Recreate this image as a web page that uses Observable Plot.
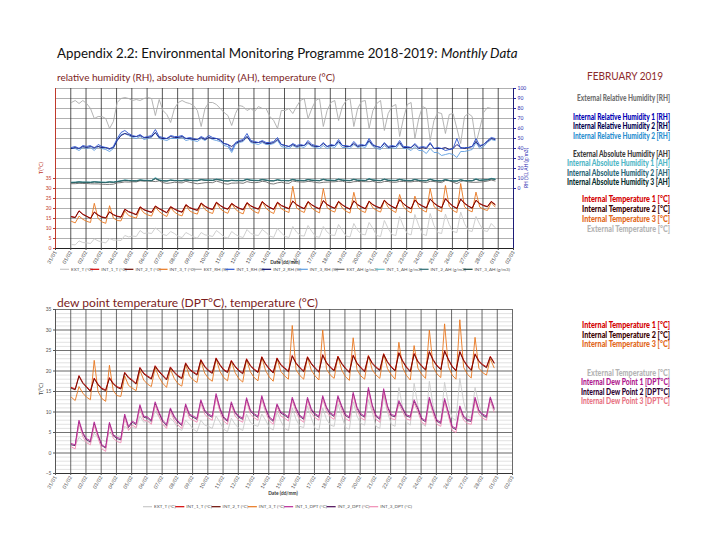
<!DOCTYPE html>
<html><head><meta charset="utf-8">
<script src="https://cdn.jsdelivr.net/npm/d3@7"></script>
<script src="https://cdn.jsdelivr.net/npm/@observablehq/plot@0.6"></script>
<style>
body{margin:0;background:#fff;}
#page{position:relative;width:720px;height:540px;overflow:hidden;background:#fff;font-family:Lato,"Open Sans",sans-serif;}
.abs{position:absolute;}
</style></head><body><div id="page"></div>
<script>
// ---------- time grid / ticks ----------
const slotHours = [1, 7, 13, 19];          // readings per day (hours)
const nDays = 28;                          // 1..28 February 2019
const tickLabels = ["31/01","01/02","02/02","03/02","04/02","05/02","06/02","07/02","08/02","09/02","10/02","11/02","12/02","13/02","14/02","15/02","16/02","17/02","18/02","19/02","20/02","21/02","22/02","23/02","24/02","25/02","26/02","27/02","28/02","01/03","02/03"];

// ---------- temperature series (°C), 4 readings per day ----------
const EXT_T = [
2.0,1.8,3.8,3.0, 2.8,2.5,4.8,3.8, 3.2,2.8,5.0,4.2, 4.2,4.0,6.5,5.8,
6.2,6.0,9.0,7.5, 7.8,7.5,10.3,8.8, 7.0,6.5,8.5,7.5, 6.0,5.5,8.0,7.0,
5.8,5.2,8.0,6.8, 6.5,6.0,9.0,7.5, 5.8,5.2,8.5,7.0, 6.0,5.5,9.5,7.5,
6.8,6.5,9.5,8.0, 6.2,5.6,10.0,7.8, 6.0,5.5,11.0,8.2, 6.5,6.2,11.5,8.5,
6.0,5.6,11.0,8.2, 6.8,6.5,12.0,9.0, 6.2,5.8,12.5,9.0, 7.2,6.8,13.0,10.0,
6.5,6.0,14.0,10.0, 7.0,6.5,16.0,11.0, 7.5,6.8,17.0,11.5, 7.2,6.5,17.5,11.5,
8.0,7.5,17.2,12.0, 8.5,8.0,18.2,12.5, 9.0,8.5,16.0,12.0, 9.0,8.5,12.5,10.5];
const INT_1_T = [
16.0,15.6,18.9,17.2, 16.2,15.2,18.3,16.8, 15.8,15.4,18.4,17.0, 16.2,15.8,19.7,18.5,
17.8,17.0,20.9,19.5, 18.8,18.2,21.3,20.0, 19.0,18.0,21.0,19.8, 18.9,18.3,22.0,20.5,
19.8,19.2,22.8,21.2, 20.2,19.6,23.2,21.6, 20.4,19.8,22.6,21.2, 20.2,19.5,23.0,21.4,
20.5,19.8,23.5,21.8, 20.6,19.7,23.2,21.6, 20.8,20.0,23.8,22.0, 20.9,20.0,23.5,21.9,
20.8,19.9,24.0,22.1, 21.0,20.2,23.6,21.9, 20.7,19.8,23.9,22.0, 20.9,20.0,23.7,22.0,
21.0,20.3,24.2,22.3, 21.1,20.2,24.5,22.5, 21.0,20.0,24.3,22.4, 21.3,20.4,24.8,22.8,
21.4,20.5,25.0,22.9, 21.2,20.2,24.8,22.7, 21.3,20.3,24.2,22.5, 21.6,21.0,23.6,22.1];
const INT_2_T = [
15.8,15.4,18.7,17.0, 16.0,15.0,18.1,16.6, 15.6,15.2,18.2,16.8, 16.0,15.6,19.5,18.3,
17.6,16.8,20.7,19.3, 18.6,18.0,21.1,19.8, 18.8,17.8,20.8,19.6, 18.7,18.1,21.8,20.3,
19.6,19.0,22.6,21.0, 20.0,19.4,23.0,21.4, 20.2,19.6,22.4,21.0, 20.0,19.3,22.8,21.2,
20.3,19.6,23.3,21.6, 20.4,19.5,23.0,21.4, 20.6,19.8,23.6,21.8, 20.7,19.8,23.3,21.7,
20.6,19.7,23.8,21.9, 20.8,20.0,23.4,21.7, 20.5,19.6,23.7,21.8, 20.7,19.8,23.5,21.8,
20.8,20.1,24.0,22.1, 20.9,20.0,24.3,22.3, 20.8,19.8,24.1,22.2, 21.1,20.2,24.6,22.6,
21.2,20.3,24.8,22.7, 21.0,20.0,24.6,22.5, 21.1,20.1,24.0,22.3, 21.4,20.8,23.4,21.9];
const INT_3_T = [
13.6,12.8,16.2,14.6, 13.6,13.0,22.6,15.0, 13.3,12.6,21.4,15.2, 14.0,13.8,18.8,16.5,
15.8,15.2,20.2,17.8, 16.8,16.2,20.8,18.5, 17.0,16.0,20.5,18.2, 16.9,16.3,21.6,18.8,
17.8,17.2,22.5,19.5, 18.2,17.5,23.0,19.9, 18.4,17.6,22.4,19.6, 18.1,17.3,22.8,19.8,
18.4,17.6,23.4,20.1, 18.5,17.5,23.0,19.9, 18.8,18.0,31.1,20.3, 18.9,18.0,23.4,20.2,
18.8,17.8,30.0,20.4, 19.0,18.2,23.6,20.2, 18.6,17.7,28.1,20.3, 18.8,18.0,23.8,20.3,
19.0,18.2,24.2,20.6, 19.1,18.0,27.0,20.8, 18.9,17.8,26.2,20.7, 19.2,18.2,30.0,21.0,
19.3,18.4,31.5,21.1, 19.0,18.0,32.5,20.9, 19.2,18.3,28.2,20.7, 19.6,19.0,23.0,20.8];

// ---------- dew point (°C) ----------
const INT_1_DPT = [
2.3,2.0,8.0,5.0, 3.5,3.0,7.6,4.5, 2.0,1.4,7.5,4.5, 3.8,3.5,9.5,6.5,
7.8,7.2,11.8,9.0, 8.8,8.0,12.5,10.0, 8.0,7.0,11.0,9.0, 7.8,7.0,12.0,9.5,
9.0,8.5,13.0,10.5, 9.5,9.0,14.5,11.0, 8.8,8.0,12.5,10.0, 9.0,8.5,13.5,10.5,
9.6,9.0,14.0,11.0, 8.8,8.0,12.0,10.0, 9.5,8.8,13.6,11.0, 9.2,8.5,13.6,10.8,
9.6,9.0,14.0,11.2, 9.8,9.2,14.0,11.5, 9.4,8.8,14.8,11.2, 9.6,9.0,16.0,11.8,
9.2,8.5,15.7,11.5, 9.4,9.1,12.8,11.0, 9.3,9.0,13.0,11.0, 8.5,7.9,13.6,10.5,
8.0,7.5,13.3,10.0, 6.5,6.0,11.5,9.0, 8.2,8.0,13.6,10.5, 9.5,9.0,13.7,11.0];
const INT_2_DPT = [
2.0,1.8,7.6,4.7, 3.2,2.7,7.2,4.2, 1.8,1.2,7.2,4.2, 3.5,3.2,9.1,6.2,
7.5,6.9,11.4,8.7, 8.5,7.7,12.1,9.7, 7.7,6.7,10.7,8.7, 7.5,6.7,11.6,9.2,
8.7,8.2,12.6,10.2, 9.2,8.7,14.0,10.7, 8.5,7.7,12.1,9.7, 8.7,8.2,13.1,10.2,
9.3,8.7,13.6,10.7, 8.5,7.7,11.7,9.7, 9.2,8.5,13.2,10.7, 8.9,8.2,13.2,10.5,
9.3,8.7,13.6,10.9, 9.5,8.9,13.6,11.2, 9.1,8.5,14.4,10.9, 9.3,8.7,15.5,11.5,
8.9,8.2,15.2,11.2, 9.1,8.8,12.4,10.7, 9.0,8.7,12.6,10.7, 8.2,7.6,13.2,10.2,
7.7,7.2,12.9,9.7, 6.2,5.7,11.1,8.7, 7.9,7.7,13.2,10.2, 9.2,8.7,13.3,10.7];
const INT_3_DPT = [
1.5,1.0,7.2,4.0, 2.5,2.0,6.8,3.6, 1.0,0.4,6.8,3.6, 2.8,2.5,8.6,5.5,
6.8,6.2,11.0,8.0, 7.8,7.0,11.7,9.0, 7.0,6.0,10.2,8.0, 6.8,6.0,11.2,8.5,
8.0,7.5,12.2,9.5, 8.5,8.0,13.6,10.0, 7.8,7.0,11.7,9.0, 8.0,7.5,12.7,9.5,
8.6,8.0,13.2,10.0, 7.8,7.0,11.3,9.0, 8.5,7.8,12.8,10.0, 8.2,7.5,12.8,9.8,
8.6,8.0,13.2,10.2, 8.8,8.2,13.2,10.5, 8.4,7.8,14.0,10.2, 8.6,8.0,15.0,10.8,
8.2,7.5,14.8,10.5, 8.4,8.1,12.0,10.0, 8.3,8.0,12.2,10.0, 7.5,6.9,12.8,9.5,
7.0,6.5,12.5,9.0, 5.5,5.0,10.7,8.0, 7.2,7.0,12.8,9.5, 8.5,8.0,12.9,10.0];

// ---------- relative humidity (%) ----------
const EXT_RH = [
86,88,85,88, 85,80,70,72, 72,70,60,67, 86,90,91,90,
88,89,88,90, 91,90,73,89, 78,74,66,80, 86,88,86,85,
83,78,62,80, 86,86,84,80, 76,73,63,75, 83,82,78,80,
77,82,80,80, 72,68,60,78, 78,80,75,82, 88,90,70,80,
88,90,62,78, 86,88,68,82, 88,90,62,80, 87,88,60,78,
85,88,58,75, 82,84,52,70, 84,86,50,70, 82,80,48,68,
76,75,55,74, 75,60,45,72, 75,72,45,60, 76,81,80,80];
const INT_1_RH = [
41,42,40,43, 42,43,40,44, 42,41,39,42, 50,56,58,55,
53,52,54,51, 52,53,59,52, 51,50,53,52, 52,53,50,51,
50,49,52,50, 53,51,50,49, 45,44,38,46, 48,49,55,48,
47,46,48,46, 46,47,51,44, 43,42,45,43, 44,43,48,44,
43,42,46,42, 44,43,49,43, 43,42,47,43, 44,43,50,44,
42,41,46,42, 43,42,48,42, 42,41,45,41, 42,41,46,40,
41,40,38,39, 40,50,40,41, 41,42,50,43, 44,48,51,50];
const INT_2_RH = [
40,41,40,42, 41,42,41,42, 41,41,40,41, 48,53,55,54,
52,52,53,51, 51,52,56,51, 50,50,52,51, 51,52,50,50,
49,49,51,49, 51,50,50,48, 45,44,42,45, 47,48,52,47,
46,46,47,45, 45,46,49,44, 43,42,44,42, 43,43,46,43,
42,42,45,42, 43,43,47,43, 42,42,45,42, 43,43,48,43,
42,41,45,41, 42,42,46,41, 41,41,44,40, 41,40,45,40,
40,40,41,39, 40,44,41,40, 41,42,47,42, 44,47,50,49];
const INT_3_RH = [
40,40,38,41, 40,41,38,42, 40,39,37,40, 48,54,55,53,
51,50,52,49, 50,51,56,50, 49,48,50,50, 50,51,48,49,
48,47,50,48, 51,49,48,47, 43,42,36,44, 46,47,52,46,
45,44,46,44, 44,45,48,42, 41,40,43,41, 42,41,45,42,
41,40,43,40, 42,41,46,41, 41,40,44,41, 42,41,47,42,
40,39,43,40, 41,40,45,40, 40,38,42,38, 38,35,40,36,
36,33,34,35, 34,31,37,37, 38,39,46,40, 42,46,49,48];

// ---------- absolute humidity (g/m3) ----------
const EXT_AH = [
4.8,4.8,5.2,5.0, 5.0,4.7,4.6,4.6, 4.3,4.1,4.1,4.3, 5.6,5.9,6.6,6.4,
6.7,6.6,7.7,7.3, 7.6,7.3,6.9,7.7, 5.9,5.1,5.6,6.3, 5.9,5.6,7.2,6.2,
5.5,4.7,5.2,5.8, 6.0,5.8,7.4,6.3, 4.9,4.3,5.4,5.4, 5.6,5.2,6.9,6.0,
5.8,6.1,7.2,6.7, 4.9,4.5,5.7,6.2, 5.4,5.1,7.5,6.8, 6.5,6.4,7.1,6.8,
6.0,5.6,6.2,6.4, 6.6,6.7,7.2,7.3, 6.2,5.9,6.8,7.0, 6.9,6.8,6.8,7.3,
6.0,5.9,7.0,7.0, 6.3,6.2,7.1,7.0, 6.7,6.6,7.2,7.2, 6.4,5.9,7.2,7.0,
6.3,5.9,8.0,7.8, 6.3,4.9,7.0,8.0, 6.6,6.2,6.2,6.4, 6.8,7.4,8.5,7.5];
const INT_1_AH = [
6.3,6.4,6.8,6.5, 6.5,6.4,6.9,6.6, 6.4,6.3,6.8,6.5, 7.2,7.8,8.6,8.2,
8.0,7.9,8.8,8.3, 8.2,8.1,11.0,8.6, 8.0,7.8,8.6,8.2, 8.1,8.0,8.9,8.4,
8.2,8.1,9.2,8.6, 8.5,8.4,9.5,8.8, 8.0,7.8,8.4,8.1, 8.2,8.1,9.6,8.5,
8.3,8.2,9.3,8.6, 8.0,7.9,9.0,8.2, 8.2,8.0,9.4,8.4, 8.3,8.1,9.3,8.5,
8.3,8.1,9.5,8.5, 8.4,8.2,9.6,8.6, 8.3,8.1,9.5,8.5, 8.4,8.2,10.0,8.7,
8.3,8.1,9.6,8.5, 8.3,8.2,9.5,8.5, 8.2,8.1,9.4,8.4, 8.1,8.0,9.6,8.3,
8.0,7.9,9.2,8.2, 7.8,7.7,9.0,8.0, 8.1,8.0,9.8,8.4, 8.8,9.0,10.2,9.6];
const INT_2_AH = [
6.1,6.2,6.6,6.3, 6.3,6.2,6.7,6.4, 6.2,6.1,6.6,6.3, 7.0,7.6,8.3,8.0,
7.8,7.7,8.5,8.1, 8.0,7.9,10.2,8.4, 7.8,7.6,8.4,8.0, 7.9,7.8,8.6,8.2,
8.0,7.9,8.9,8.4, 8.3,8.2,9.2,8.6, 7.8,7.6,8.2,7.9, 8.0,7.9,9.2,8.3,
8.1,8.0,9.0,8.4, 7.8,7.7,8.7,8.0, 8.0,7.8,9.1,8.2, 8.1,7.9,9.0,8.3,
8.1,7.9,9.2,8.3, 8.2,8.0,9.3,8.4, 8.1,7.9,9.2,8.3, 8.2,8.0,9.6,8.5,
8.1,7.9,9.3,8.3, 8.1,8.0,9.2,8.3, 8.0,7.9,9.1,8.2, 7.9,7.8,9.3,8.1,
7.8,7.7,8.9,8.0, 7.6,7.5,8.7,7.8, 7.9,7.8,9.4,8.2, 8.6,8.8,9.8,9.3];
const INT_3_AH = [
5.9,6.0,6.4,6.1, 6.1,6.0,6.5,6.2, 6.0,5.9,6.4,6.1, 6.8,7.4,8.1,7.8,
7.6,7.5,8.3,7.9, 7.8,7.7,9.8,8.2, 7.6,7.4,8.2,7.8, 7.7,7.6,8.4,8.0,
7.8,7.7,8.7,8.2, 8.1,8.0,9.0,8.4, 7.6,7.4,8.0,7.7, 7.8,7.7,9.0,8.1,
7.9,7.8,8.8,8.2, 7.6,7.5,8.5,7.8, 7.8,7.6,8.9,8.0, 7.9,7.7,8.8,8.1,
7.9,7.7,9.0,8.1, 8.0,7.8,9.1,8.2, 7.9,7.7,9.0,8.1, 8.0,7.8,9.4,8.3,
7.9,7.7,9.1,8.1, 7.9,7.8,9.0,8.1, 7.8,7.7,8.9,8.0, 7.7,7.6,9.1,7.9,
7.6,7.5,8.7,7.8, 7.4,7.3,8.5,7.6, 7.7,7.6,9.2,8.0, 8.4,8.6,9.6,9.1];

// ---------- axis tick values ----------
const tTicksTop = [0,5,10,15,20,25,30,35];
const rhTicks = [0,10,20,30,40,50,60,70,80,90,100];
const tTicksBottom = [-5,0,5,10,15,20,25,30,35];

// ---------- text ----------
const titleMain = "Appendix 2.2: Environmental Monitoring Programme 2018-2019: ";
const titleItalic = "Monthly Data";
const subTop = "relative humidity (RH), absolute humidity (AH), temperature (°C)";
const subBottom = "dew point temperature (DPT°C), temperature (°C)";
const monthLabel = "FEBRUARY 2019";
const topLegendNames = ["EXT_T (°C)","INT_1_T (°C)","INT_2_T (°C)","INT_3_T (°C)","EXT_RH (%)","INT_1_RH (%)","INT_2_RH (%)","INT_3_RH (%)","EXT_AH (g/m3)","INT_1_AH (g/m3)","INT_2_AH (g/m3)","INT_3_AH (g/m3)"];
const bottomLegendNames = ["EXT_T (°C)","INT_1_T (°C)","INT_2_T (°C)","INT_3_T (°C)","INT_1_DPT (°C)","INT_2_DPT (°C)","INT_3_DPT (°C)"];
const sideTopNames = ["External Relative Humidity [RH]","Internal Relative Humidity 1 [RH]","Internal Relative Humidity 2 [RH]","Internal Relative Humidity 2 [RH]","External Absolute Humidity [AH]","Internal Absolute Humidity 1 [AH]","Internal Absolute Humidity 2 [AH]","Internal Absolute Humidity 3 [AH]","Internal Temperature 1 [°C]","Internal Temperature 2 [°C]","Internal Temperature 3 [°C]","External Temperature [°C]"];
const sideBottomNames = ["Internal Temperature 1 [°C]","Internal Temperature 2 [°C]","Internal Temperature 3 [°C]","External Temperature [°C]","Internal Dew Point 1 [DPT°C]","Internal Dew Point 2 [DPT°C]","Internal Dew Point 3 [DPT°C]"];

// ---------- styles (kept separate from data) ----------
const col = {
  EXT_T:"#c9c9c9", INT_1_T:"#d40000", INT_2_T:"#6a0a00", INT_3_T:"#e8761e",
  EXT_RH:"#ababab", INT_1_RH:"#2b55cf", INT_2_RH:"#0b0b6e", INT_3_RH:"#5d9de0",
  EXT_AH:"#6a6a6a", INT_1_AH:"#66bcc6", INT_2_AH:"#2d6c72", INT_3_AH:"#17443f",
  INT_1_DPT:"#b82896", INT_2_DPT:"#4a0a55", INT_3_DPT:"#f08cb4"
};
const sideTopColors = ["#707070","#0000b4","#000050","#2b8fd0","#3c3c3c","#4fb6c6","#2a6676","#0b3232","#d40000","#3c0000","#e2671a","#b4b4b4"];
const sideBottomColors = ["#d40000","#3c0000","#e2671a","#b4b4b4","#b0188e","#2e0030","#e87484"];
const sideTopLayout = [[577,98.3],[573,116.7],[573,126],[573,136],[573,154],[567,163.3],[567,172.7],[567,182.3],[582,199.3],[582,209],[582,219.3],[587,229.3]];
const sideBottomLayout = [[582,325],[582,335],[582,344],[587,372.7],[581,382.3],[581,391.7],[581,401]];

// ---------- build ----------
const times = [];
for (let d = 0; d < nDays; d++) for (const h of slotHours) times.push(new Date(Date.UTC(2019, 1, 1 + d, h)));
const tickDates = tickLabels.map((_, k) => new Date(Date.UTC(2019, 0, 31 + k)));
const xDomain = [tickDates[0], tickDates[tickDates.length - 1]];
const fmtTick = d => tickLabels[tickDates.findIndex(t => +t === +d)];
const rhToT = v => (v + 60) / 2;   // secondary axis (RH/AH: -60..100) onto T axis (0..80)

const ln = (vals, color, w = 0.9, tf = v => v) =>
  Plot.line(vals, {x: (d, i) => times[i], y: d => tf(d), stroke: color, strokeWidth: w});

const page = document.getElementById("page");

const topChart = Plot.plot({
  width: 560, height: 195, marginLeft: 55, marginRight: 47, marginTop: 8, marginBottom: 27,
  style: {background: "transparent", fontFamily: "Lato, sans-serif", overflow: "visible"},
  x: {type: "utc", domain: xDomain},
  y: {domain: [0, 80]},
  marks: [
    Plot.ruleY(d3.range(0, 81, 5), {stroke: "#8e8e8e", strokeWidth: 0.7}),
    Plot.ruleX(tickDates, {stroke: "#2b2b2b", strokeWidth: 0.8}),
    ln(EXT_T, col.EXT_T),
    ln(INT_3_T, col.INT_3_T),
    ln(INT_1_T, col.INT_1_T),
    ln(INT_2_T, col.INT_2_T),
    ln(EXT_RH, col.EXT_RH, 0.9, rhToT),
    ln(INT_3_RH, col.INT_3_RH, 0.9, rhToT),
    ln(INT_2_RH, col.INT_2_RH, 0.9, rhToT),
    ln(INT_1_RH, col.INT_1_RH, 0.9, rhToT),
    ln(EXT_AH, col.EXT_AH, 0.9, rhToT),
    ln(INT_1_AH, col.INT_1_AH, 0.9, rhToT),
    ln(INT_3_AH, col.INT_3_AH, 0.9, rhToT),
    ln(INT_2_AH, col.INT_2_AH, 0.9, rhToT),
    Plot.ruleX([xDomain[0]], {stroke: "#c0392b", strokeWidth: 1}),
    Plot.ruleX([xDomain[1]], {stroke: "#1c1c78", strokeWidth: 1}),
    Plot.ruleY([0], {stroke: "#222", strokeWidth: 1}),
    Plot.axisY(tTicksTop, {anchor: "left", label: null, fontSize: 5, tickSize: 2, tickPadding: 2, color: "#c0392b"}),
    Plot.axisY(rhTicks.map(rhToT), {anchor: "right", label: null, fontSize: 5, tickSize: 2, tickPadding: 2, color: "#2a2ab0", tickFormat: v => String(2 * v - 60)}),
    Plot.axisX(tickDates, {anchor: "bottom", label: null, fontSize: 5, tickSize: 2, tickPadding: 1, tickRotate: -60, tickFormat: fmtTick, color: "#444"})
  ]
});
const topWrap = document.createElement("div");
topWrap.className = "abs"; topWrap.style.left = "0px"; topWrap.style.top = "80px";
topWrap.appendChild(topChart); page.appendChild(topWrap);

const botChart = Plot.plot({
  width: 560, height: 200, marginLeft: 55, marginRight: 48, marginTop: 9, marginBottom: 27,
  style: {background: "transparent", fontFamily: "Lato, sans-serif", overflow: "visible"},
  x: {type: "utc", domain: xDomain},
  y: {domain: [-5, 35]},
  marks: [
    Plot.ruleY(d3.range(-5, 36, 1), {stroke: "#c4c4c4", strokeWidth: 0.5}),
    Plot.ruleY(tTicksBottom, {stroke: "#555", strokeWidth: 0.8}),
    Plot.ruleX(tickDates, {stroke: "#444", strokeWidth: 0.8}),
    ln(EXT_T, col.EXT_T),
    ln(INT_3_T, col.INT_3_T),
    ln(INT_1_T, col.INT_1_T),
    ln(INT_2_T, col.INT_2_T),
    ln(INT_2_DPT, col.INT_2_DPT, 0.8),
    ln(INT_3_DPT, col.INT_3_DPT),
    ln(INT_1_DPT, col.INT_1_DPT),
    Plot.ruleX([xDomain[0]], {stroke: "#555", strokeWidth: 1}),
    Plot.ruleY([-5], {stroke: "#333", strokeWidth: 1}),
    Plot.axisY(tTicksBottom, {anchor: "left", label: null, fontSize: 5, tickSize: 2, tickPadding: 2, color: "#555"}),
    Plot.axisX(tickDates, {anchor: "bottom", label: null, fontSize: 5, tickSize: 2, tickPadding: 1, tickRotate: -60, tickFormat: fmtTick, color: "#555"})
  ]
});
const botWrap = document.createElement("div");
botWrap.className = "abs"; botWrap.style.left = "0px"; botWrap.style.top = "300px";
botWrap.appendChild(botChart); page.appendChild(botWrap);

// ---------- overlay text ----------
const ov = d3.select(page).append("svg").attr("class", "abs")
  .attr("width", 720).attr("height", 540).style("left", "0px").style("top", "0px")
  .style("font-family", "Lato, 'Open Sans', sans-serif");

// title: one text element, font size fitted to the reference width (~461px)
const title = ov.append("text").attr("x", 57).attr("y", 58).attr("font-size", 15.5).attr("fill", "#111");
title.append("tspan").text(titleMain);
title.append("tspan").attr("font-style", "italic").text(titleItalic);
{
  const w = title.node().getComputedTextLength();
  if (w > 0) title.attr("font-size", Math.min(17, 15.5 * 461 / w));
}

ov.append("text").attr("x", 57).attr("y", 80.5).attr("font-size", 10).attr("fill", "#7b1c1c")
  .attr("textLength", 278).attr("lengthAdjust", "spacingAndGlyphs").text(subTop);
ov.append("text").attr("x", 57).attr("y", 306.5).attr("font-size", 12).attr("fill", "#7b1c1c")
  .attr("textLength", 261).attr("lengthAdjust", "spacingAndGlyphs").text(subBottom);
ov.append("text").attr("x", 587).attr("y", 80).attr("font-size", 11).attr("fill", "#8e2b2b")
  .attr("textLength", 76).attr("lengthAdjust", "spacingAndGlyphs").text(monthLabel);

function side(names, colors, layout) {
  names.forEach((n, i) => {
    ov.append("text").attr("x", layout[i][0]).attr("y", layout[i][1] + 3)
      .attr("font-size", 8.5).attr("font-weight", 900).attr("fill", colors[i])
      .attr("textLength", 670 - layout[i][0]).attr("lengthAdjust", "spacingAndGlyphs").text(n);
  });
}
side(sideTopNames, sideTopColors, sideTopLayout);
side(sideBottomNames, sideBottomColors, sideBottomLayout);

// axis titles
ov.append("text").attr("transform", "translate(43,168) rotate(-90)").attr("text-anchor", "middle")
  .attr("font-size", 5.5).attr("fill", "#c0392b").text("T(°C)");
ov.append("text").attr("transform", "translate(43,389) rotate(-90)").attr("text-anchor", "middle")
  .attr("font-size", 5.5).attr("fill", "#444").text("T(°C)");
ov.append("text").attr("transform", "translate(528,168) rotate(-90)").attr("text-anchor", "middle")
  .attr("font-size", 5).attr("fill", "#2a2ab0").text("RH (%), AH (g/m3)");
ov.append("text").attr("x", 285).attr("y", 263.5).attr("text-anchor", "middle").attr("font-size", 4.8)
  .attr("font-weight", 700).attr("fill", "#333").text("Date (dd/mm)");
ov.append("text").attr("x", 283).attr("y", 494.5).attr("text-anchor", "middle").attr("font-size", 4.8)
  .attr("font-weight", 700).attr("fill", "#333").text("Date (dd/mm)");

// series legends below charts
function legendRow(names, colors, x0, x1, y) {
  const g = ov.append("g");
  const items = names.map((n, i) => {
    const t = g.append("text").attr("y", y + 1.7).attr("font-size", 4.6).attr("fill", "#555").text(n);
    return {t, w: t.node().getComputedTextLength(), c: colors[i]};
  });
  const sample = 9, pad = 2;
  const used = d3.sum(items, it => sample + pad + it.w);
  const gap = (x1 - x0 - used) / (items.length - 1);
  let x = x0;
  items.forEach(it => {
    g.append("line").attr("x1", x).attr("x2", x + sample).attr("y1", y).attr("y2", y)
      .attr("stroke", it.c).attr("stroke-width", 1.2);
    it.t.attr("x", x + sample + pad);
    x += sample + pad + it.w + gap;
  });
}
legendRow(topLegendNames, [col.EXT_T,col.INT_1_T,col.INT_2_T,col.INT_3_T,col.EXT_RH,col.INT_1_RH,col.INT_2_RH,col.INT_3_RH,col.EXT_AH,col.INT_1_AH,col.INT_2_AH,col.INT_3_AH], 60, 510, 269.3);
legendRow(bottomLegendNames, [col.EXT_T,col.INT_1_T,col.INT_2_T,col.INT_3_T,col.INT_1_DPT,col.INT_2_DPT,col.INT_3_DPT], 143, 412, 506.7);
</script></body></html>
